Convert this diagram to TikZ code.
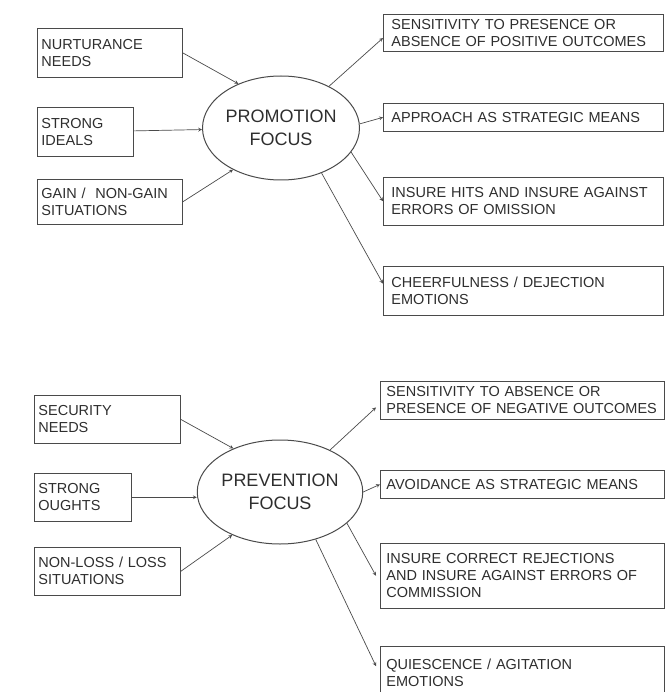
\documentclass[tikz,border=0pt]{standalone}
\usepackage{fontspec}
\setmainfont{Liberation Sans}
\usepackage{xcolor}
\usepackage{tikz}
\usetikzlibrary{shapes,arrows,positioning}

\definecolor{inkgray}{HTML}{2E2E2E}
\definecolor{linegray}{HTML}{4A4A4A}
\hyphenpenalty=10000
\exhyphenpenalty=10000

\begin{document}
\begin{tikzpicture}[
    x=1pt, y=-1pt,
    every node/.style={text=inkgray, font=\fontsize{14.5}{17}\selectfont},
    cause/.style={rectangle, draw=linegray, line width=0.9pt, align=left, inner xsep=4pt, anchor=north west},
    effect/.style={rectangle, draw=linegray, line width=0.9pt, align=left, inner xsep=8pt, text width=264pt, anchor=north west},
    focus/.style={ellipse, draw=linegray, line width=1pt, align=center, inner sep=0pt, minimum width=154pt, minimum height=104pt, font=\fontsize{18}{23}\selectfont},
    arrow/.style={->, >=stealth, draw=linegray, line width=0.7pt}
]
    \useasboundingbox (0,0) rectangle (671,692);

    % promotion
    \node[focus] (promo) at (281,128) {PROMOTION\\FOCUS};
    \node[cause, text width=137pt, minimum height=49pt] (nurt) at (37,28) {NURTURANCE\\NEEDS};
    \node[cause, text width=88pt, minimum height=49pt, below=29pt of nurt.south west, anchor=north west] (ideals) {STRONG\\IDEALS};
    \node[cause, text width=137pt, minimum height=45pt, below=22pt of ideals.south west, anchor=north west] (gain) {GAIN /\ \ NON-GAIN\\SITUATIONS};

    \node[effect, minimum height=37pt] (sensA) at (383,14) {SENSITIVITY TO PRESENCE OR\\ABSENCE OF POSITIVE OUTCOMES};
    \node[effect, minimum height=28pt, below=51pt of sensA.south west, anchor=north west] (approach) {APPROACH AS STRATEGIC MEANS};
    \node[effect, minimum height=48pt, below=45pt of approach.south west, anchor=north west] (hits) {INSURE HITS AND INSURE AGAINST\\ERRORS OF OMISSION};
    \node[effect, minimum height=49pt, below=40pt of hits.south west, anchor=north west] (cheer) {CHEERFULNESS / DEJECTION\\EMOTIONS};

    \draw[arrow] (nurt.east) -- (promo.134);
    \draw[arrow] (ideals) -- (promo);
    \draw[arrow] (gain.east) -- (promo.221);
    \draw[arrow] (promo.41) -- ([yshift=-5pt]sensA.west);
    \draw[arrow] (promo.3) -- (approach.west);
    \draw[arrow] (promo.341) -- (hits.west);
    \draw[arrow] (promo.312) -- ([yshift=7pt]cheer.west);

    % prevention
    \node[focus] (prev) at (280,492) {PREVENTION\\FOCUS};
    \node[cause, text width=138pt, minimum height=48pt] (secur) at (34,395) {SECURITY\\NEEDS};
    \node[cause, text width=89pt, minimum height=48pt, below=29pt of secur.south west, anchor=north west] (oughts) {STRONG\\OUGHTS};
    \node[cause, text width=138pt, minimum height=48pt, below=25pt of oughts.south west, anchor=north west] (loss) {NON-LOSS / LOSS\\SITUATIONS};

    \node[effect, inner xsep=6pt, text width=272pt, minimum height=38pt] (sensB) at (380,381) {SENSITIVITY TO ABSENCE OR\\PRESENCE OF NEGATIVE OUTCOMES};
    \node[effect, inner xsep=6pt, text width=272pt, minimum height=28pt, below=50pt of sensB.south west, anchor=north west] (avoid) {AVOIDANCE AS STRATEGIC MEANS};
    \node[effect, inner xsep=6pt, text width=272pt, minimum height=65pt, below=44pt of avoid.south west, anchor=north west] (correct) {INSURE CORRECT REJECTIONS\\AND INSURE AGAINST ERRORS OF\\COMMISSION};
    \node[effect, inner xsep=6pt, text width=272pt, minimum height=54pt, below=37pt of correct.south west, anchor=north west] (quiet) {QUIESCENCE / AGITATION\\EMOTIONS};

    \draw[arrow] (secur.east) -- (prev.137);
    \draw[arrow] (oughts.east) -- (oughts.east -| prev.west);
    \draw[arrow] (loss.east) -- (prev.222);
    \draw[arrow] (prev.40) -- ([xshift=-4pt,yshift=-7pt]sensB.west);
    \draw[arrow] (prev.east) -- (avoid.west);
    \draw[arrow] (prev.335) -- ([xshift=-4pt]correct.west);
    \draw[arrow] (prev.307) -- ([xshift=-4pt,yshift=7pt]quiet.west);
\end{tikzpicture}
\end{document}
